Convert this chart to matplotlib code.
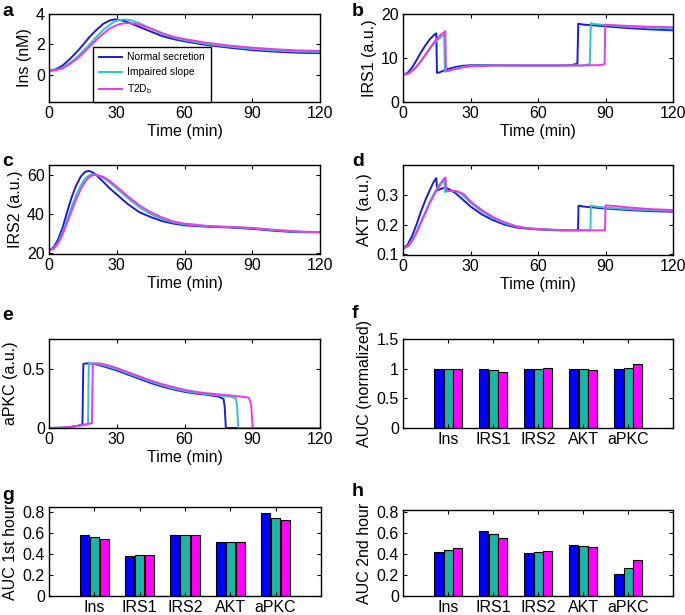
import numpy as np
import matplotlib
matplotlib.use("Agg")
import matplotlib.pyplot as plt

plt.rcParams['font.family'] = ['Liberation Sans', 'DejaVu Sans']
plt.rcParams['mathtext.fontset'] = 'custom'
plt.rcParams['mathtext.rm'] = 'Liberation Sans'

series_names = ["Normal secretion", "Impaired slope", "T2D$_\\mathrm{b}$"]
line_colors = ["#1c1cd0", "#2fc4c8", "#e83ae8"]
bar_colors = ["#0000ff", "#1fb3aa", "#ff00ff"]

# ---- panel a: insulin (nM)
t_ins = [0, 3, 6, 9, 12, 15, 18, 21, 24, 27, 29, 31, 33, 36, 40, 45, 50, 55, 60, 70, 80, 90, 100, 110, 120]
ins_normal = [0.25, 0.35, 0.6, 1.0, 1.45, 1.95, 2.5, 2.95, 3.35, 3.58, 3.64, 3.62, 3.55, 3.4, 3.15, 2.85, 2.55, 2.35, 2.2, 1.95, 1.78, 1.62, 1.52, 1.45, 1.42]
ins_impaired = [0.25, 0.3, 0.45, 0.75, 1.1, 1.55, 2.0, 2.5, 2.95, 3.3, 3.5, 3.6, 3.64, 3.6, 3.4, 3.05, 2.7, 2.45, 2.28, 2.02, 1.85, 1.7, 1.6, 1.53, 1.5]
ins_t2d = [0.25, 0.3, 0.42, 0.68, 1.0, 1.4, 1.85, 2.3, 2.7, 3.05, 3.2, 3.32, 3.38, 3.4, 3.3, 3.05, 2.75, 2.5, 2.35, 2.1, 1.92, 1.78, 1.68, 1.6, 1.57]

# ---- panel b: IRS1
t_irs1_normal = [0, 2, 4, 6, 8, 10, 12, 13.5, 14.8, 15.1, 16, 18, 20, 23, 26, 30, 40, 50, 60, 70, 75, 77.5, 77.9, 80, 85, 90, 100, 110, 120]
irs1_normal = [6.2, 6.6, 7.8, 9.5, 11.3, 12.9, 14.3, 15.1, 15.6, 6.6, 6.7, 7.1, 7.5, 7.9, 8.2, 8.35, 8.35, 8.3, 8.3, 8.3, 8.4, 8.7, 17.8, 17.6, 17.4, 17.2, 16.8, 16.5, 16.3]
t_irs1_impaired = [0, 2, 4, 6, 8, 10, 12, 14, 16, 18.3, 18.6, 20, 23, 26, 30, 40, 50, 60, 70, 80, 83, 83.5, 85, 90, 100, 110, 120]
irs1_impaired = [6.2, 6.4, 7.0, 8.0, 9.3, 10.7, 12.1, 13.4, 14.4, 15.4, 6.9, 7.1, 7.5, 7.9, 8.2, 8.3, 8.3, 8.3, 8.3, 8.3, 8.6, 17.9, 17.7, 17.5, 17.1, 16.9, 16.7]
t_irs1_t2d = [0, 2, 4, 6, 8, 10, 12, 14, 16, 18.8, 19.1, 21, 24, 27, 30, 40, 50, 60, 70, 80, 88, 89.6, 89.9, 92, 100, 110, 120]
irs1_t2d = [6.2, 6.4, 7.0, 8.0, 9.3, 10.8, 12.3, 13.7, 14.9, 16.1, 7.0, 7.2, 7.6, 7.9, 8.1, 8.3, 8.3, 8.3, 8.3, 8.3, 8.4, 8.6, 17.6, 17.5, 17.3, 17.1, 17.0]

# ---- panel c: IRS2
t_irs2 = [0, 2, 4, 6, 8, 10, 12, 14, 16, 17.5, 19, 21, 24, 27, 30, 35, 40, 45, 50, 55, 60, 70, 80, 90, 100, 110, 120]
irs2_normal = [21.5, 23, 27, 33, 41, 48.5, 54.5, 59, 61.5, 62, 61.5, 59.8, 56.5, 53, 50, 45, 41, 38.5, 36.5, 35.2, 34.3, 33.6, 33.2, 32.5, 31.5, 30.8, 30.8]
irs2_impaired = [21.5, 22.5, 25.5, 30.5, 37, 43.5, 49.5, 54.5, 58, 59.5, 60.2, 60, 58.5, 56, 53, 48, 43.5, 40, 37.5, 35.8, 34.8, 33.8, 33.4, 32.8, 31.8, 31, 30.8]
irs2_t2d = [21.5, 22.3, 25, 29.5, 35.5, 41.5, 47.5, 52.5, 56.5, 58.5, 59.6, 60, 59, 56.8, 54, 49, 44.5, 41, 38.3, 36.3, 35.2, 34.0, 33.5, 33.0, 32, 31.2, 30.8]

# ---- panel d: AKT
t_akt_normal = [0, 2, 4, 6, 8, 10, 12, 13.5, 14.8, 15.2, 16, 18, 20, 23, 26, 30, 35, 40, 45, 50, 55, 60, 65, 70, 75, 77.8, 78, 80, 90, 100, 110, 120]
akt_normal = [0.118, 0.13, 0.16, 0.2, 0.245, 0.285, 0.32, 0.345, 0.36, 0.318, 0.32, 0.326, 0.324, 0.31, 0.29, 0.262, 0.235, 0.215, 0.2, 0.19, 0.186, 0.183, 0.181, 0.18, 0.18, 0.18, 0.265, 0.262, 0.255, 0.25, 0.246, 0.244]
t_akt_impaired = [0, 2, 4, 6, 8, 10, 12, 14, 16, 18.3, 18.6, 20, 23, 26, 30, 35, 40, 45, 50, 55, 60, 65, 70, 75, 80, 83.3, 83.5, 85, 90, 100, 110, 120]
akt_impaired = [0.118, 0.125, 0.145, 0.175, 0.21, 0.245, 0.28, 0.31, 0.335, 0.36, 0.312, 0.315, 0.315, 0.305, 0.275, 0.245, 0.222, 0.205, 0.193, 0.187, 0.184, 0.182, 0.181, 0.18, 0.18, 0.18, 0.265, 0.263, 0.258, 0.253, 0.249, 0.247]
t_akt_t2d = [0, 2, 4, 6, 8, 10, 12, 14, 16, 18.9, 19.2, 21, 24, 27, 30, 35, 40, 45, 50, 55, 60, 65, 70, 75, 80, 85, 89.8, 90, 92, 100, 110, 120]
akt_t2d = [0.118, 0.124, 0.142, 0.17, 0.205, 0.24, 0.275, 0.305, 0.33, 0.362, 0.315, 0.316, 0.315, 0.305, 0.28, 0.25, 0.226, 0.208, 0.195, 0.188, 0.185, 0.183, 0.181, 0.18, 0.18, 0.18, 0.18, 0.266, 0.265, 0.259, 0.253, 0.25]

# ---- panel e: aPKC
t_apkc_normal = [0, 5, 10, 13, 14.8, 15.2, 17, 20, 25, 30, 35, 40, 45, 50, 55, 60, 65, 70, 75, 77.3, 77.8, 78.3, 90, 100, 120]
apkc_normal = [0, 0.002, 0.01, 0.02, 0.03, 0.54, 0.545, 0.54, 0.515, 0.485, 0.45, 0.415, 0.38, 0.35, 0.325, 0.305, 0.29, 0.28, 0.265, 0.245, 0.18, 0, 0, 0, 0]
t_apkc_impaired = [0, 5, 10, 14, 17.3, 17.6, 20, 25, 30, 35, 40, 45, 50, 55, 60, 65, 70, 75, 80, 82.8, 83.3, 83.8, 90, 100, 120]
apkc_impaired = [0, 0.002, 0.01, 0.02, 0.035, 0.54, 0.545, 0.525, 0.495, 0.46, 0.425, 0.39, 0.36, 0.333, 0.312, 0.297, 0.285, 0.275, 0.265, 0.25, 0.18, 0, 0, 0, 0]
t_apkc_t2d = [0, 5, 10, 15, 19.0, 19.4, 22, 25, 30, 35, 40, 45, 50, 55, 60, 65, 70, 75, 80, 85, 88.5, 89.5, 90.2, 100, 120]
apkc_t2d = [0, 0.002, 0.01, 0.025, 0.04, 0.54, 0.545, 0.535, 0.505, 0.47, 0.435, 0.4, 0.37, 0.345, 0.322, 0.305, 0.293, 0.283, 0.275, 0.265, 0.255, 0.2, 0, 0, 0]

# ---- bar panels
bar_categories = ["Ins", "IRS1", "IRS2", "AKT", "aPKC"]
auc_norm_normal = [1.0, 1.0, 1.0, 1.0, 1.0]
auc_norm_impaired = [1.0, 0.978, 1.0, 0.995, 1.017]
auc_norm_t2d = [1.0, 0.944, 1.01, 0.978, 1.075]
auc1_normal = [0.576, 0.38, 0.585, 0.516, 0.788]
auc1_impaired = [0.557, 0.386, 0.585, 0.516, 0.74]
auc1_t2d = [0.538, 0.389, 0.585, 0.516, 0.725]
auc2_normal = [0.418, 0.617, 0.411, 0.481, 0.209]
auc2_impaired = [0.44, 0.585, 0.415, 0.475, 0.269]
auc2_t2d = [0.456, 0.547, 0.424, 0.462, 0.345]

time_ticks = [0, 30, 60, 90, 120]

W, H = 685, 615
fig = plt.figure(figsize=(W / 100, H / 100), dpi=100)

def add_ax(left, top, right, bottom):
    return fig.add_axes([left / W, 1 - bottom / H, (right - left) / W, (bottom - top) / H])

FS = 11.5
LW = 1.4

def style(ax):
    ax.tick_params(direction='in', length=3, width=0.8, top=True, right=True,
                   labelsize=FS, pad=3)
    for s in ax.spines.values():
        s.set_linewidth(1.0)
        s.set_color('black')

def time_panel(ax, curves, ylim, yticks, ylabel, yticklabels=None):
    for (t, y), c in zip(curves, line_colors):
        ax.plot(t, y, color=c, lw=LW)
    ax.set_xlim(0, 120)
    ax.set_ylim(*ylim)
    ax.set_xticks(time_ticks)
    ax.set_yticks(yticks)
    if yticklabels is not None:
        ax.set_yticklabels(yticklabels)
    ax.set_xlabel("Time (min)", fontsize=FS, labelpad=2)
    ax.set_ylabel(ylabel, fontsize=FS, labelpad=3)
    style(ax)

def bar_panel(ax, vals, ylim, yticks, yticklabels, ylabel):
    x = np.arange(1, len(bar_categories) + 1)
    offs = [-0.222, 0.0, 0.222]
    for v, o, c in zip(vals, offs, bar_colors):
        ax.bar(x + o, v, width=0.2, color=c, edgecolor='black', linewidth=0.8)
    ax.set_xlim(0, 6)
    ax.set_ylim(*ylim)
    ax.set_xticks(x)
    ax.set_xticklabels(bar_categories)
    ax.set_yticks(yticks)
    ax.set_yticklabels(yticklabels)
    ax.set_ylabel(ylabel, fontsize=FS, labelpad=3)
    style(ax)

# a
ax_a = add_ax(49, 14, 320, 102)
time_panel(ax_a, [(t_ins, ins_normal), (t_ins, ins_impaired), (t_ins, ins_t2d)],
           (-1.8, 4), [0, 2, 4], "Ins (nM)")
leg = ax_a.legend(series_names, loc='lower left', bbox_to_anchor=(0.162, 0.0),
                  borderaxespad=0, fontsize=7.4, frameon=True, fancybox=False,
                  edgecolor='black', handlelength=2.3, handletextpad=0.5,
                  labelspacing=0.5, borderpad=0.55, framealpha=1)
leg.get_frame().set_linewidth(1.0)

# b
ax_b = add_ax(403, 14, 673, 102)
time_panel(ax_b, [(t_irs1_normal, irs1_normal), (t_irs1_impaired, irs1_impaired), (t_irs1_t2d, irs1_t2d)],
           (0, 20), [0, 10, 20], "IRS1 (a.u.)")

# c
ax_c = add_ax(49, 165, 320, 254)
time_panel(ax_c, [(t_irs2, irs2_normal), (t_irs2, irs2_impaired), (t_irs2, irs2_t2d)],
           (19.7, 65), [20, 40, 60], "IRS2 (a.u.)")

# d
ax_d = add_ax(403, 165, 673, 255)
time_panel(ax_d, [(t_akt_normal, akt_normal), (t_akt_impaired, akt_impaired), (t_akt_t2d, akt_t2d)],
           (0.095, 0.405), [0.1, 0.2, 0.3], "AKT (a.u.)")

# e
ax_e = add_ax(49, 339, 320, 428)
time_panel(ax_e, [(t_apkc_normal, apkc_normal), (t_apkc_impaired, apkc_impaired), (t_apkc_t2d, apkc_t2d)],
           (0, 0.75), [0, 0.5], "aPKC (a.u.)", ["0", "0.5"])

# f
ax_f = add_ax(403, 339, 673, 428)
bar_panel(ax_f, [auc_norm_normal, auc_norm_impaired, auc_norm_t2d], (0, 1.5),
          [0, 0.5, 1, 1.5], ["0", "0.5", "1", "1.5"], "AUC (normalized)")

# g
ax_g = add_ax(49, 507, 321, 596)
bar_panel(ax_g, [auc1_normal, auc1_impaired, auc1_t2d], (0, 0.847),
          [0, 0.2, 0.4, 0.6, 0.8], ["0", "0.2", "0.4", "0.6", "0.8"], "AUC 1st hour")

# h
ax_h = add_ax(403, 510, 673, 596)
bar_panel(ax_h, [auc2_normal, auc2_impaired, auc2_t2d], (0, 0.816),
          [0, 0.2, 0.4, 0.6, 0.8], ["0", "0.2", "0.4", "0.6", "0.8"], "AUC 2nd hour")

# panel letters
for letter, x, y in [("a", 2, 11), ("b", 352, 11), ("c", 2, 162), ("d", 352, 162),
                     ("e", 2, 316), ("f", 352, 313), ("g", 2, 495), ("h", 352, 491)]:
    fig.text(x / W, 1 - y / H, letter, fontsize=14, fontweight='bold', va='center', ha='left')

fig.savefig("out.png", dpi=100)
